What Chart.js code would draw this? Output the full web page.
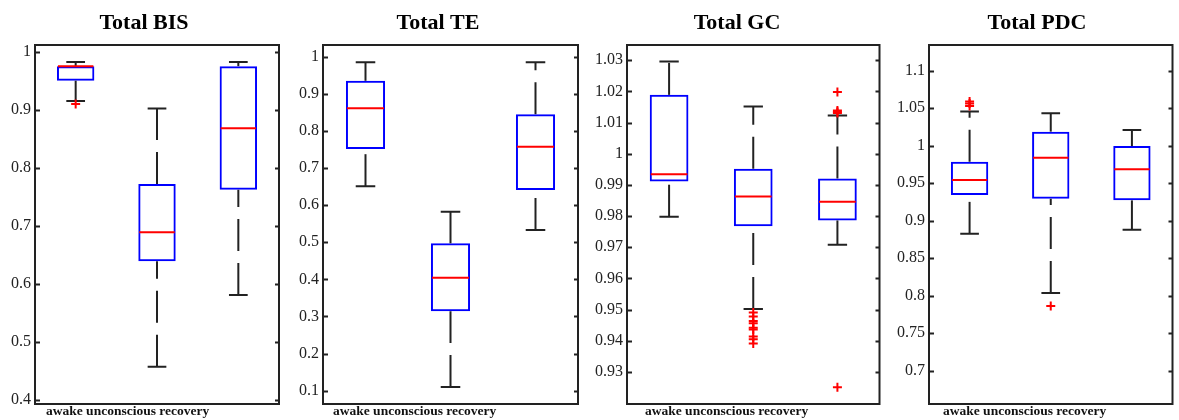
<!DOCTYPE html>
<html>
<head>
<meta charset="utf-8">
<script src="https://cdn.jsdelivr.net/npm/chart.js@4.4.1/dist/chart.umd.min.js"></script>
<style>
    html, body { margin: 0; padding: 0; background: #fff; }
    #wrap { position: relative; width: 1179px; height: 420px; overflow: hidden; }
    .panel { position: absolute; top: 0; height: 420px; }
</style>
</head>
<body>
<div id="wrap">
    <div class="panel" style="left:0px;width:286px"><canvas id="c-bis"></canvas></div>
    <div class="panel" style="left:290px;width:294px"><canvas id="c-te"></canvas></div>
    <div class="panel" style="left:586px;width:300px"><canvas id="c-gc"></canvas></div>
    <div class="panel" style="left:884px;width:295px"><canvas id="c-pdc"></canvas></div>
</div>
<script>
// Grupos (eje x) y etiqueta inferior
const groups = ['awake', 'unconscious', 'recovery'];
const xCaption = 'awake unconscious recovery';

// Total BIS
const bisLow  = [0.915, 0.457, 0.581];
const bisQ1   = [0.950, 0.639, 0.762];
const bisMed  = [0.975, 0.689, 0.868];
const bisQ3   = [0.975, 0.772, 0.975];
const bisHigh = [0.982, 0.902, 0.982];
const bisOut  = [[0.910], [], []];
const bisTicks = ['0.4', '0.5', '0.6', '0.7', '0.8', '0.9', '1'];

// Total TE
const teLow  = [0.651, 0.110, 0.533];
const teQ1   = [0.751, 0.314, 0.641];
const teMed  = [0.861, 0.404, 0.757];
const teQ3   = [0.935, 0.497, 0.845];
const teHigh = [0.985, 0.582, 0.985];
const teOut  = [[], [], []];
const teTicks = ['0.1', '0.2', '0.3', '0.4', '0.5', '0.6', '0.7', '0.8', '0.9', '1'];

// Total GC
const gcLow  = [0.9798, 0.9502, 0.9708];
const gcQ1   = [0.9911, 0.9767, 0.9786];
const gcMed  = [0.9934, 0.9863, 0.9846];
const gcQ3   = [1.0189, 0.9952, 0.9921];
const gcHigh = [1.0296, 1.0152, 1.0123];
const gcOut  = [
    [],
    [0.9491, 0.9478, 0.9463, 0.9456, 0.9442, 0.9436, 0.9414, 0.9405, 0.9391],
    [1.0198, 1.0139, 1.0135, 1.0131, 0.9251],
];
const gcTicks = ['0.93', '0.94', '0.95', '0.96', '0.97', '0.98', '0.99', '1', '1.01', '1.02', '1.03'];

// Total PDC
const pdcLow  = [0.8824, 0.8034, 0.8878];
const pdcQ1   = [0.9343, 0.9294, 0.9271];
const pdcMed  = [0.9544, 0.9839, 0.9686];
const pdcQ3   = [0.9786, 1.0188, 0.9995];
const pdcHigh = [1.0456, 1.0433, 1.0209];
const pdcOut  = [[1.0590, 1.0563, 1.0531], [0.7863], []];
const pdcTicks = ['0.7', '0.75', '0.8', '0.85', '0.9', '0.95', '1', '1.05', '1.1'];

const INK   = '#222';
const BLUE  = '#0000ff';
const RED   = '#ff0000';
const SERIF = '"Liberation Serif", "Times New Roman", serif';

// Bigotes, topes y mediana, dibujados con las escalas del gráfico
const boxParts = {
    id: 'boxParts',
    afterDatasetDraw(chart, args, opts) {
        if (args.index !== 0) return;
        const { ctx } = chart;
        const y = chart.scales.y;
        const bars = chart.getDatasetMeta(0).data;
        ctx.save();
        bars.forEach((bar, i) => {
            const x = bar.x;
            const half = bar.width / 2;
            const cap = bar.width / 4;
            const pLow = y.getPixelForValue(opts.low[i]);
            const pQ1 = y.getPixelForValue(opts.q1[i]);
            const pQ3 = y.getPixelForValue(opts.q3[i]);
            const pHigh = y.getPixelForValue(opts.high[i]);
            const pMed = y.getPixelForValue(opts.med[i]);

            ctx.strokeStyle = INK;
            ctx.lineWidth = 2;
            ctx.setLineDash([32, 12]);
            ctx.beginPath(); ctx.moveTo(x, pQ3); ctx.lineTo(x, pHigh); ctx.stroke();
            ctx.beginPath(); ctx.moveTo(x, pLow); ctx.lineTo(x, pQ1); ctx.stroke();
            ctx.setLineDash([]);
            ctx.beginPath();
            ctx.moveTo(x - cap, pHigh); ctx.lineTo(x + cap, pHigh);
            ctx.moveTo(x - cap, pLow); ctx.lineTo(x + cap, pLow);
            ctx.stroke();

            ctx.strokeStyle = RED;
            ctx.beginPath(); ctx.moveTo(x - half + 1, pMed); ctx.lineTo(x + half - 1, pMed); ctx.stroke();
        });
        ctx.restore();
    },
    afterDraw(chart, args, opts) {
        const { ctx, chartArea: a } = chart;
        const y = chart.scales.y;
        ctx.save();
        ctx.strokeStyle = INK;
        ctx.lineWidth = 2;
        ctx.strokeRect(a.left, a.top, a.right - a.left, a.bottom - a.top);
        ctx.beginPath();
        y.ticks.forEach((t) => {
            const py = Math.round(y.getPixelForValue(t.value)) + 0.5;
            ctx.moveTo(a.left, py); ctx.lineTo(a.left + 5, py);
            ctx.moveTo(a.right - 4, py); ctx.lineTo(a.right, py);
        });
        ctx.stroke();
        ctx.fillStyle = '#111';
        ctx.font = `bold 13.5px ${SERIF}`;
        ctx.textBaseline = 'middle';
        ctx.fillText(xCaption, a.left + opts.capOffset, 412);
        ctx.restore();
    },
};

function makePanel(id, title, low, q1, med, q3, high, out, tickLabels, yMin, yMax, pad, axisW, capOffset) {
    const tickVals = tickLabels.map(Number);
    const outPts = [];
    out.forEach((vals, i) => vals.forEach((v) => outPts.push({ x: groups[i], y: v })));

    new Chart(document.getElementById(id), {
        type: 'bar',
        data: {
            labels: groups,
            datasets: [{
                data: groups.map((g, i) => [q1[i], q3[i]]),
                backgroundColor: 'rgba(0,0,0,0)',
                borderColor: BLUE,
                borderWidth: 2,
                borderSkipped: false,
                barPercentage: 0.46,
                categoryPercentage: 1,
                order: 1,
            }, {
                type: 'line',
                data: outPts,
                showLine: false,
                pointStyle: 'cross',
                pointRadius: 4.5,
                pointBorderWidth: 2,
                pointBorderColor: RED,
                pointBackgroundColor: RED,
                order: 0,
            }],
        },
        options: {
            responsive: true,
            maintainAspectRatio: false,
            animation: false,
            events: [],
            layout: { padding: { left: pad.l, right: pad.r, top: 0, bottom: 16 } },
            plugins: {
                legend: { display: false },
                tooltip: { enabled: false },
                title: {
                    display: true,
                    text: title,
                    color: '#000',
                    font: { family: SERIF, size: 22, weight: 'bold' },
                    padding: { top: 10, bottom: 8.6 },
                },
                boxParts: { low, q1, med, q3, high, capOffset },
            },
            scales: {
                x: { display: false, offset: true },
                y: {
                    min: yMin,
                    max: yMax,
                    afterBuildTicks: (s) => { s.ticks = tickVals.map((v) => ({ value: v })); },
                    afterFit: (s) => { s.width = axisW; },
                    ticks: {
                        color: INK,
                        padding: 4,
                        font: { family: SERIF, size: 16 },
                        callback: (v, i) => tickLabels[i],
                    },
                    grid: { display: false, drawTicks: false },
                    border: { display: false },
                },
            },
        },
        plugins: [boxParts],
    });
}

makePanel('c-bis', 'Total BIS', bisLow, bisQ1, bisMed, bisQ3, bisHigh, bisOut, bisTicks,
    0.393, 1.0115, { l: 9, r: 7 }, 26, 11);
makePanel('c-te', 'Total TE', teLow, teQ1, teMed, teQ3, teHigh, teOut, teTicks,
    0.064, 1.0315, { l: 8, r: 6 }, 25, 10);
makePanel('c-gc', 'Total GC', gcLow, gcQ1, gcMed, gcQ3, gcHigh, gcOut, gcTicks,
    0.9197, 1.0349, { l: 7, r: 5 }, 34, 18);
makePanel('c-pdc', 'Total PDC', pdcLow, pdcQ1, pdcMed, pdcQ3, pdcHigh, pdcOut, pdcTicks,
    0.6554, 1.1344, { l: 12, r: 1 }, 33, 14);
</script>
</body>
</html>
